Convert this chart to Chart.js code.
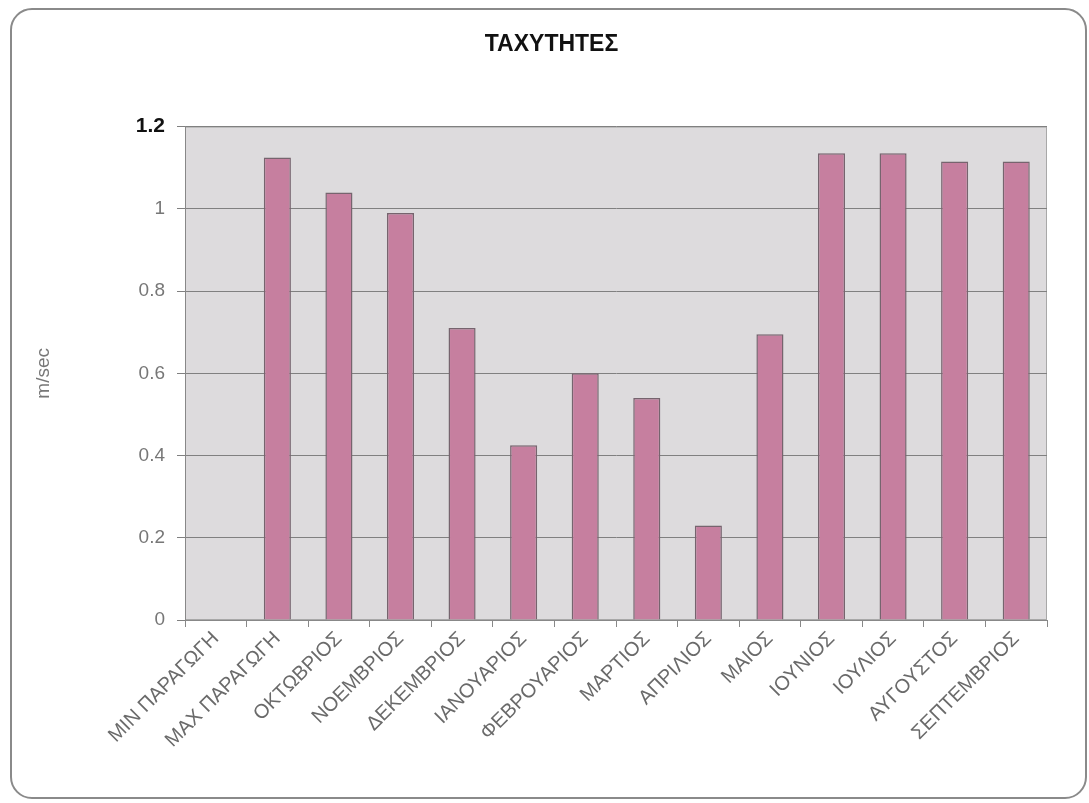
<!DOCTYPE html>
<html>
<head>
<meta charset="utf-8">
<script src="https://cdn.jsdelivr.net/npm/chart.js@4"></script>
<style>
  html, body { margin: 0; padding: 0; background: #fff; }
  #wrap { position: relative; width: 1089px; height: 803px; }
  #frame {
    position: absolute; left: 10px; top: 8px; width: 1073px; height: 787px;
    border: 2px solid #8a8a8a; border-radius: 22px; pointer-events: none;
  }
</style>
</head>
<body>
<div id="wrap">
  <canvas id="speedChart" width="1089" height="803"></canvas>
  <div id="frame"></div>
</div>
<script>
// κατηγορίες και τιμές ταχύτητας (m/sec)
const categories = ['MIN ΠΑΡΑΓΩΓΗ', 'MAX ΠΑΡΑΓΩΓΗ', 'ΟΚΤΩΒΡΙΟΣ', 'ΝΟΕΜΒΡΙΟΣ', 'ΔΕΚΕΜΒΡΙΟΣ',
  'ΙΑΝΟΥΑΡΙΟΣ', 'ΦΕΒΡΟΥΑΡΙΟΣ', 'ΜΑΡΤΙΟΣ', 'ΑΠΡΙΛΙΟΣ', 'ΜΑΙΟΣ', 'ΙΟΥΝΙΟΣ', 'ΙΟΥΛΙΟΣ',
  'ΑΥΓΟΥΣΤΟΣ', 'ΣΕΠΤΕΜΒΡΙΟΣ'];
const speeds = [0, 1.125, 1.04, 0.99, 0.71, 0.425, 0.60, 0.54, 0.23, 0.695, 1.135, 1.135, 1.115, 1.115];
const yTicks = [0, 0.2, 0.4, 0.6, 0.8, 1, 1.2];

const FONT = 'Liberation Sans, Arial, sans-serif';

const plotBackground = {
  id: 'plotBackground',
  afterLayout(chart) {
    // τίτλος λίγο δεξιότερα από το κέντρο του πλαισίου
    const t = chart.titleBlock;
    if (t) { t.left += 12; t.right += 12; }
  },
  beforeDraw(chart) {
    const { ctx, chartArea } = chart;
    ctx.save();
    ctx.fillStyle = '#dddbdd';
    ctx.fillRect(chartArea.left, chartArea.top, chartArea.right - chartArea.left, chartArea.bottom - chartArea.top);
    ctx.strokeStyle = '#a8a8a8';
    ctx.lineWidth = 1;
    ctx.strokeRect(chartArea.left + 0.5, chartArea.top + 0.5, chartArea.right - chartArea.left - 1, chartArea.bottom - chartArea.top - 1);
    ctx.restore();
  }
};

new Chart(document.getElementById('speedChart'), {
  type: 'bar',
  data: {
    labels: categories,
    datasets: [{
      data: speeds,
      backgroundColor: '#c67f9f',
      borderColor: '#76646e',
      borderWidth: 1.5,
      barPercentage: 0.44,
      categoryPercentage: 1
    }]
  },
  options: {
    responsive: false,
    animation: false,
    layout: { padding: { left: 32, right: 42, top: 0, bottom: 33 } },
    plugins: {
      legend: { display: false },
      tooltip: { enabled: false },
      title: {
        display: true,
        text: 'ΤΑΧΥΤΗΤΕΣ',
        color: '#111',
        font: { family: FONT, size: 23, weight: 'bold' },
        padding: { top: 31, bottom: 68 }
      }
    },
    scales: {
      x: {
        grid: { display: true, drawOnChartArea: false, offset: true, color: '#888', tickLength: 7 },
        border: { color: '#888' },
        ticks: {
          color: '#6a6a6a',
          font: { family: FONT, size: 20 },
          maxRotation: 45,
          minRotation: 45,
          autoSkip: false,
          padding: 0
        },
        afterFit(scale) { scale.height = 150; }
      },
      y: {
        min: 0,
        max: 1.2,
        afterBuildTicks(scale) { scale.ticks = yTicks.map(v => ({ value: v })); },
        grid: { color: '#808080', tickLength: 8 },
        border: { color: '#888' },
        ticks: {
          callback: v => String(v),
          color: ctx => ctx.tick && ctx.tick.value === 1.2 ? '#111' : '#777',
          font: ctx => ({
            family: FONT,
            size: ctx.tick && ctx.tick.value === 1.2 ? 21 : 19,
            weight: ctx.tick && ctx.tick.value === 1.2 ? 'bold' : 'normal'
          }),
          padding: 12
        },
        title: {
          display: true,
          text: 'm/sec',
          color: '#777',
          font: { family: FONT, size: 19 },
          padding: { top: 0, bottom: 0 }
        },
        afterFit(scale) { scale.width = 153; }
      }
    }
  },
  plugins: [plotBackground]
});
</script>
</body>
</html>
